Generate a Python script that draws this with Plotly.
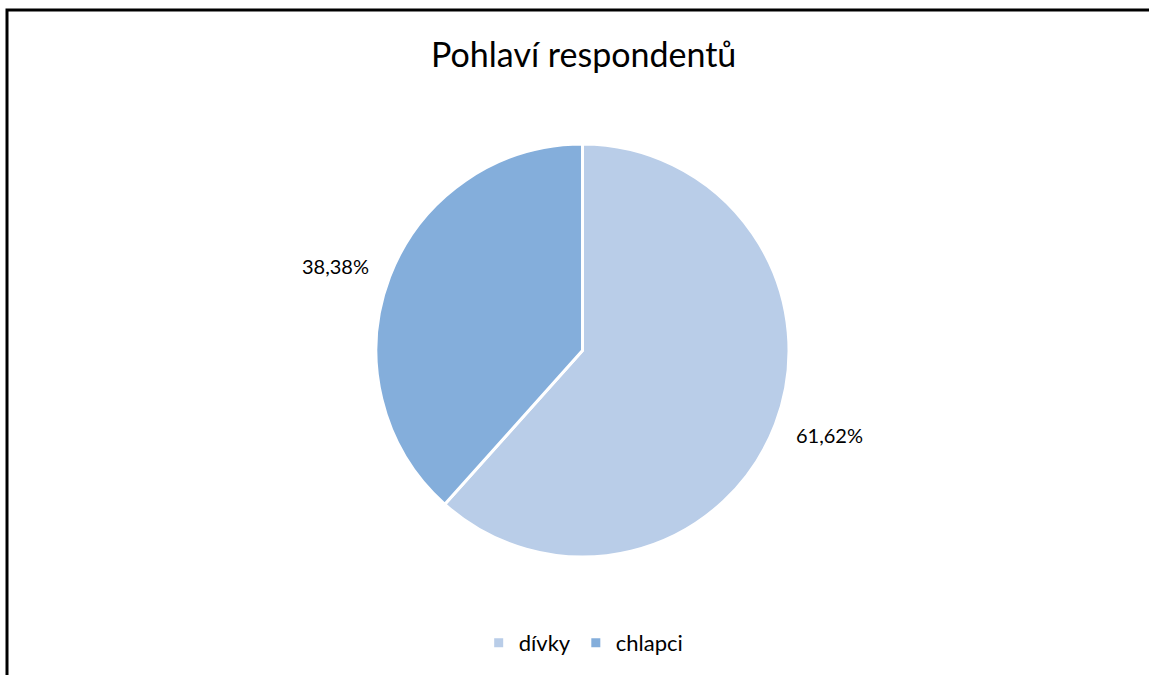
import math
import plotly.graph_objects as go

# data
labels = ["dívky", "chlapci"]
values = [61.62, 38.38]
value_texts = ["61,62%", "38,38%"]
colors = ["#B9CDE8", "#84AEDB"]

W, H = 1149, 675
FONT = "Lato, 'Open Sans', sans-serif"

# pie placement (pixels of the figure)
dom_x = [376 / W, 789 / W]
dom_y = [1 - 557 / H, 1 - 144 / H]

pie = go.Pie(
    labels=labels,
    values=values,
    text=value_texts,
    textinfo="none",
    marker=dict(colors=colors, line=dict(color="white", width=3)),
    direction="clockwise",
    rotation=0,
    sort=False,
    domain=dict(x=dom_x, y=dom_y),
    hovertemplate="%{label}: %{text}<extra></extra>",
)

fig = go.Figure(data=[pie])

# data labels outside the slices, Excel style (placed from slice mid-angles)
cx = (dom_x[0] + dom_x[1]) / 2 * W
cy = (1 - (dom_y[0] + dom_y[1]) / 2) * H
r = (dom_x[1] - dom_x[0]) * W / 2
total = sum(values)
acc = 0
for v, t in zip(values, value_texts):
    mid = (acc + v / 2) / total * 2 * math.pi
    acc += v
    px = cx + 1.28 * r * math.sin(mid)
    py = cy - 1.15 * r * math.cos(mid)
    fig.add_annotation(
        x=px / W, y=1 - py / H, xref="paper", yref="paper",
        text=t, showarrow=False, xanchor="center", yanchor="middle",
        font=dict(size=20, family=FONT, color="#000000"),
    )

fig.update_layout(
    width=W,
    height=H,
    margin=dict(l=0, r=0, t=0, b=0),
    paper_bgcolor="white",
    plot_bgcolor="white",
    font=dict(family=FONT, color="#000000"),
    title=dict(
        text="Pohlaví respondentů",
        x=0.508, xanchor="center",
        y=1 - 55 / H, yanchor="middle",
        font=dict(size=34, family=FONT, color="#000000"),
    ),
    showlegend=True,
    legend=dict(
        orientation="h",
        x=0.508, xanchor="center",
        y=1 - 643 / H, yanchor="middle",
        font=dict(size=22, family=FONT, color="#000000"),
        itemwidth=30,
    ),
    shapes=[
        dict(
            type="rect", xref="paper", yref="paper",
            x0=7 / W, x1=1.05, y0=-0.05, y1=1 - 10 / H,
            line=dict(color="#000000", width=3),
            fillcolor="rgba(0,0,0,0)",
        )
    ],
)

fig.write_html(
    "out.html",
    config={"displayModeBar": False},
    post_script="document.body.style.margin='0';",
)
